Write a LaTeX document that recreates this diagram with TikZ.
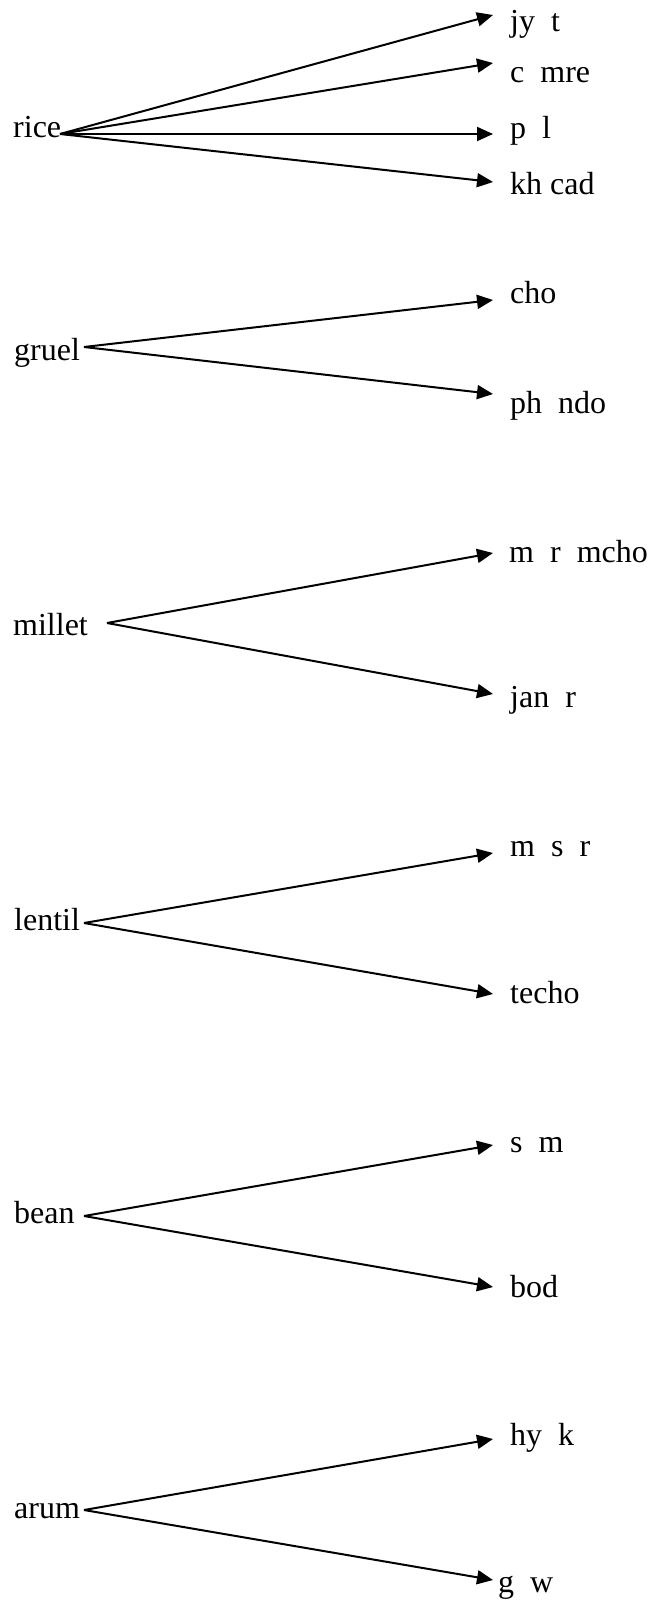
\documentclass[tikz,border=0pt]{standalone}
\usepackage{fontspec}
\setmainfont{Liberation Serif}
\usetikzlibrary{arrows.meta}
\begin{document}
\begin{tikzpicture}[x=1pt,y=-1pt,
  lbl/.style={anchor=base west,inner sep=0pt,font=\fontsize{32}{36}\selectfont},
  arr/.style={line width=2pt,-{Triangle[length=16pt,width=14pt]}}]
\useasboundingbox (0,0) rectangle (648,1602);
% rice
\node[lbl] (rice) at (13,138) {rice};
\coordinate (riceo) at (60,134);
\node[lbl] (jyt) at (510,32) {jy~~t};
\node[lbl] (cmre) at (510,83) {c~~mre};
\node[lbl] (pl) at (510,139) {p~~l};
\node[lbl] (khcad) at (510,195) {kh cad};
\coordinate (t1) at (493,15);
\coordinate (t2) at (493,63);
\coordinate (t3) at (493,134);
\coordinate (t4) at (493,182);
\draw[arr] (riceo) -- (t1);
\draw[arr] (riceo) -- (t2);
\draw[arr] (riceo) -- (t3);
\draw[arr] (riceo) -- (t4);
% gruel
\node[lbl] (gruel) at (14,360) {gruel};
\coordinate (gruelo) at (84,347);
\node[lbl] (cho) at (510,304) {cho};
\node[lbl] (phndo) at (510,413) {ph~~ndo};
\coordinate (t5) at (493,300);
\coordinate (t6) at (493,394);
\draw[arr] (gruelo) -- (t5);
\draw[arr] (gruelo) -- (t6);
% millet
\node[lbl] (millet) at (13,635) {millet};
\coordinate (milleto) at (107,623);
\node[lbl] (mrmcho) at (509,562) {m~~r~~mcho};
\node[lbl] (janr) at (510,707) {jan~~r};
\coordinate (t7) at (493,553);
\coordinate (t8) at (493,694);
\draw[arr] (milleto) -- (t7);
\draw[arr] (milleto) -- (t8);
% lentil
\node[lbl] (lentil) at (14,930) {lentil};
\coordinate (lentilo) at (84,923);
\node[lbl] (msr) at (510,856) {m~~s~~r};
\node[lbl] (techo) at (510,1003) {techo};
\coordinate (t9) at (493,853);
\coordinate (t10) at (493,994);
\draw[arr] (lentilo) -- (t9);
\draw[arr] (lentilo) -- (t10);
% bean
\node[lbl] (bean) at (14,1223) {bean};
\coordinate (beano) at (84,1216);
\node[lbl] (sm) at (510,1152) {s~~m};
\node[lbl] (bod) at (510,1297) {bod};
\coordinate (t11) at (493,1145);
\coordinate (t12) at (493,1287);
\draw[arr] (beano) -- (t11);
\draw[arr] (beano) -- (t12);
% arum
\node[lbl] (arum) at (14,1518) {arum};
\coordinate (arumo) at (84,1510);
\node[lbl] (hyk) at (510,1445) {hy~~k};
\node[lbl] (gw) at (498,1592) {g~~w};
\coordinate (t13) at (493,1439);
\coordinate (t14) at (493,1580);
\draw[arr] (arumo) -- (t13);
\draw[arr] (arumo) -- (t14);
\end{tikzpicture}
\end{document}
